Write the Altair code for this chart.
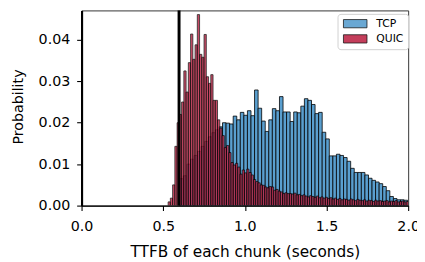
import altair as alt
import pandas as pd

# ---- data ----
SERIES = ["TCP", "QUIC"]
COLORS = ["#5A9FCF", "#BE2A4A"]

TCP_START = 0.6015
TCP_WIDTH = 0.0218
TCP_PROB = [
    0.0065, 0.0072, 0.0100, 0.0112, 0.0121, 0.0131, 0.0143, 0.0155, 0.0166, 0.0176, 0.0183, 0.0190,
    0.0200, 0.0199, 0.0197, 0.0216, 0.0207, 0.0225, 0.0218, 0.0229, 0.0217, 0.0279,
    0.0235, 0.0204, 0.0179, 0.0207, 0.0234, 0.0229, 0.0263, 0.0226, 0.0226, 0.0203,
    0.0226, 0.0224, 0.0240, 0.0258, 0.0254, 0.0244, 0.0222, 0.0225, 0.0177, 0.0161,
    0.0120, 0.0120, 0.0124, 0.0121, 0.0116, 0.0107, 0.0090, 0.0080, 0.0080, 0.0080,
    0.0074, 0.0066, 0.0061, 0.0057, 0.0053, 0.0046, 0.0036, 0.0022, 0.0017, 0.0014,
    0.0014, 0.0013,
]

QUIC_START = 0.5301
QUIC_WIDTH = 0.01375
QUIC_PROB = [
    0.0009, 0.0018, 0.0050, 0.0143, 0.0200, 0.0220, 0.0250, 0.0325, 0.0274, 0.0345,
    0.0414, 0.0353, 0.0388, 0.0461, 0.0365, 0.0358, 0.0413, 0.0311, 0.0295, 0.0316,
    0.0254, 0.0254, 0.0207, 0.0187, 0.0169, 0.0140, 0.0145, 0.0128, 0.0104, 0.0098,
    0.0102, 0.0093, 0.0076, 0.0086, 0.0079, 0.0088, 0.0080, 0.0074, 0.0063, 0.0058,
    0.0055, 0.0050, 0.0049, 0.0045, 0.0043, 0.0046, 0.0045, 0.0037, 0.0039, 0.0035,
    0.0033, 0.0029, 0.0031, 0.0029, 0.0029, 0.0028, 0.0030, 0.0026, 0.0027, 0.0024,
    0.0026, 0.0023, 0.0021, 0.0024, 0.0022, 0.0020, 0.0023, 0.0019, 0.0021, 0.0018,
    0.0020, 0.0017, 0.0019, 0.0016, 0.0018, 0.0015, 0.0017, 0.0014, 0.0016, 0.0015,
    0.0013, 0.0016, 0.0014, 0.0012, 0.0015, 0.0013, 0.0012, 0.0014, 0.0011, 0.0013,
    0.0012, 0.0010, 0.0013, 0.0011, 0.0012, 0.0010, 0.0011, 0.0012, 0.0009, 0.0011,
    0.0010, 0.0012, 0.0009, 0.0010, 0.0011, 0.0009, 0.0010,
]

MARKER_X = [0.597]
X_TICKS = [0.0, 0.5, 1.0, 1.5, 2.0]
Y_TICKS = [0.0, 0.01, 0.02, 0.03, 0.04]
X_DOMAIN = [0.0, 2.0]
Y_DOMAIN = [0.0, 0.0471]

rows = []
for i, p in enumerate(TCP_PROB):
    rows.append({"series": "TCP", "x0": TCP_START + i * TCP_WIDTH,
                 "x1": TCP_START + (i + 1) * TCP_WIDTH, "p": p})
for i, p in enumerate(QUIC_PROB):
    rows.append({"series": "QUIC", "x0": QUIC_START + i * QUIC_WIDTH,
                 "x1": QUIC_START + (i + 1) * QUIC_WIDTH, "p": p})
df = pd.DataFrame(rows)
marker_df = pd.DataFrame({"x0": MARKER_X})

FONT = "DejaVu Sans"

x_enc = alt.X("x0:Q",
              scale=alt.Scale(domain=X_DOMAIN, nice=False, zero=False, padding=0),
              axis=alt.Axis(values=X_TICKS, format=".1f", title="TTFB of each chunk (seconds)",
                            labelBaseline="alphabetic", labelPadding=20, labelFlush=False,
                            labelOverlap=False,
                            titleBaseline="alphabetic", titleY=52, titleX=166.5,
                            titleAnchor="middle", titleFontSize=15.6))
y_enc = alt.Y("p:Q",
              scale=alt.Scale(domain=Y_DOMAIN, nice=False, padding=0),
              axis=alt.Axis(values=Y_TICKS, format=".2f", title="Probability",
                            labelPadding=7, domainWidth=2.2, labelFlush=False,
                            titleX=-64, titleY=98, titleAngle=270,
                            titleAlign="center", titleBaseline="middle"))
color_enc = alt.Color("series:N",
                      scale=alt.Scale(domain=SERIES, range=COLORS),
                      legend=alt.Legend(title=None, orient="none", legendX=261, legendY=3.5,
                                        symbolType="M-3,-1.05L3,-1.05L3,1.05L-3,1.05Z",
                                        symbolSize=64, symbolOffset=8,
                                        symbolStrokeColor="black",
                                        symbolStrokeWidth=0.8, symbolOpacity=0.9,
                                        labelFont=FONT, labelFontSize=11, labelColor="black",
                                        labelOffset=16, rowPadding=2.5, padding=4.5,
                                        strokeColor="#d0d0d0", fillColor="white",
                                        cornerRadius=3))

base = alt.Chart(df)
tcp = base.transform_filter(alt.datum.series == "TCP").mark_bar(
    stroke="black", strokeWidth=0.8, opacity=1.0, clip=True
).encode(x=x_enc, x2="x1:Q", y=y_enc, y2=alt.datum(0), color=color_enc)
quic = base.transform_filter(alt.datum.series == "QUIC").mark_bar(
    stroke="black", strokeWidth=0.8, opacity=0.85, clip=True
).encode(x=x_enc, x2="x1:Q", y=y_enc, y2=alt.datum(0), color=color_enc)
vline = alt.Chart(marker_df).mark_rule(color="black", strokeWidth=3).encode(x=alt.X("x0:Q"))

chart = alt.layer(tcp, quic, vline).properties(
    width=333, height=199,
    padding={"left": 75, "top": 0, "right": 9, "bottom": 54},
    autosize=alt.AutoSizeParams(type="none"),
).configure_view(
    stroke="#333333", strokeWidth=1
).configure_axis(
    labelFont=FONT, titleFont=FONT, labelFontSize=14.5, titleFontSize=14.5,
    labelColor="black", titleColor="black", titleFontWeight="normal",
    domainColor="black", domainWidth=1.1, tickColor="black", tickWidth=1.1,
    tickSize=5, grid=False,
)

chart.save("out.html", embed_options={"renderer": "svg", "actions": False})
